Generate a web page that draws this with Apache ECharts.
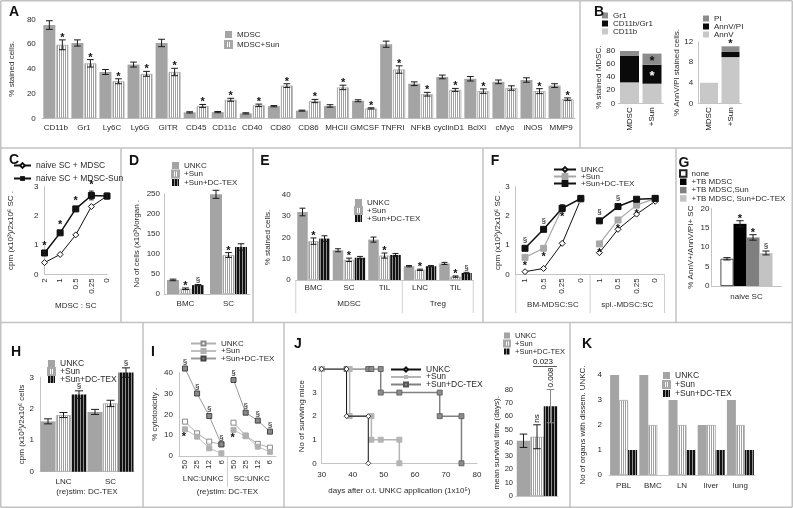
<!DOCTYPE html>
<html><head><meta charset="utf-8">
<script src="https://cdn.jsdelivr.net/npm/echarts@6/dist/echarts.min.js"></script>
<style>html,body{margin:0;padding:0;background:#fff}#c{width:793px;height:508px}</style>
</head><body><div id="c"></div>
<script>
// ================= DATA =================
// Panel A
const aCats = ['CD11b','Gr1','Ly6C','Ly6G','GITR','CD45','CD11c','CD40','CD80','CD86','MHCII','GMCSF','TNFRI','NFkB','cyclinD1','BclXl','cMyc','iNOS','MMP9'];
const aMDSC = [75.5,61,37.5,43.5,61,4.8,5,4,9.8,6.2,10,14.2,60,28,33.5,32,29.5,31,26.5];
const aMDSCerr = [3.5,2.5,2,2,3,0.5,0.5,0.5,0.5,0.4,1,0.8,2.5,1.5,1.5,1.8,1.5,1.8,1.5];
const aSun = [59.5,44.5,30,36,37.5,10,15,10.5,26.5,14,25,8,39.5,19.5,23,22,24.5,22,15.5];
const aSunErr = [4,3,2,2,3,1.2,1.2,1,1.5,1.3,1.8,0.5,3,1.5,1.2,1.8,1.8,2,1];
const aSunAnn = ['*','*','*','*','*','*','*','*','*','*','*','*','*','*','*','*','','*','*'];
// Panel B
const bCats = ['MDSC','+Sun'];
const bCD11b = [32,30];
const bCD11bGr1 = [41,29];
const bGr1 = [7,17];
const bAnnV = [4,9];
const bAnnVPI = [0,1];
const bPI = [0,1.1];
// Panel C
const cCats = ['2','1','0.5','0.25','0'];
const cMDSC = [0.4,0.68,1.35,2.32,2.68];
const cMDSCerr = [0.03,0.03,0.04,0.05,0.08];
const cSun = [0.73,1.42,2.24,2.7,2.68];
const cSunErr = [0.05,0.05,0.06,0.15,0.1];
const cSunAnn = ['*','*','*','*',''];
// Panel D
const dCats = ['BMC','SC'];
const dUNKC = [35,248];   const dUNKCerr = [2,10];
const dSun = [13,97];     const dSunErr = [2,6];   const dSunAnn = ['*','*'];
const dDC = [22,117];     const dDCerr = [1.5,8];  const dDCann = ['§',''];
// Panel E
const eCats = ['BMC','SC','TIL','LNC','TIL'];
const eGroups = ['MDSC','Treg'];
const eUNKC = [32,14,19,6.5,7.8];   const eUNKCerr = [1.8,0.7,1.2,0.3,0.5];
const eSun = [18.3,9.5,11.5,4.8,1.6]; const eSunErr = [1.5,0.8,1.2,0.3,0.3]; const eSunAnn = ['*','*','*','*','*'];
const eDC = [19.5,10.5,11.8,6.5,3.3]; const eDCerr = [1.3,0.6,0.7,0.3,0.3]; const eDCann = ['','','','','§'];
// Panel F
const fTicks = ['1','0.5','0.25','0','1','0.5','0.25','0'];
const fGroups = ['BM-MDSC:SC','spl.-MDSC:SC'];
const fUNKC = [0.09,0.2,1.06,2.57, 0.74,1.54,2.06,2.5];
const fSun = [0.58,0.89,2.26,2.57, 1.04,1.86,2.37,2.6];
const fDC = [0.89,1.54,2.26,2.6, 1.83,2.32,2.57,2.6];
const fDCerr = [0,0,0.12,0, 0,0,0,0];
const fSunAnn = ['*','*','*','', '*','*','*',''];
const fDCann = ['§','§','','', '§','§','',''];
// Panel G
const gCat = ['naive SC'];
const gNone = [7];   const gNoneErr = [0.3];
const gTB = [16];    const gTBerr = [0.8]; const gTBann = ['*'];
const gSun = [12.5]; const gSunErr = [0.7]; const gSunAnn = ['*'];
const gDC = [8.5];   const gDCerr = [0.5]; const gDCann = ['§'];
// Panel H
const hCats = ['LNC','SC'];
const hUNKC = [1.6,1.9];  const hUNKCerr = [0.08,0.08];
const hSun = [1.8,2.17];  const hSunErr = [0.08,0.1];
const hDC = [2.45,3.15];  const hDCerr = [0.12,0.15]; const hDCann = ['§','§'];
// Panel I
const iTicks = ['50','25','12','6','50','25','12','6'];
const iGroups = ['LNC:UNKC','SC:UNKC'];
const iUNKC = [16.5,10.9,6.9,5.6, 16,9.8,5.8,4];
const iSun = [12.8,9.3,3.7,1.3, 12.5,9.5,4.5,2];
const iDC = [42,30,19.2,5.6, 36.5,20.8,17,11.7];
const iDCann = ['§','§','§','§', '§','§','§','§'];
const iSunAnn = ['*','','','', '*','','',''];
// Panel J
const jUNKC = [[30,4],[38,4],[38,2],[45,2],[45,0]];
const jSun = [[30,4],[39,4],[39,2],[46,2],[46,1],[49,1],[55,1],[55,0]];
const jDC = [[30,4],[38,4],[45,4],[46,4],[49,4],[49,3],[55,3],[68,3],[68,2],[75,2],[75,0]];
const jMean = [41.5,44.5,67.5];
const jMeanErr = [5,9,12.5];
const jMeanAnn = ['','ns','0.008'];
const jPair = '0.023';
// Panel K
const kCats = ['PBL','BMC','LN','liver','lung'];
const kUNKC = [4,4,3,2,3];
const kSun = [3,2,2,2,2];
const kDC = [1,0,1,1,1];

// ================= STYLE / HELPERS =================
const FONT = '"Liberation Sans", Arial, sans-serif';
const TXT = '#2a2a2a';
const AX = '#c4c4c4';
const FRAME = '#c2c2c2';
const GRAY = '#a4a4a4';

function stripe(cols) {
  const c = document.createElement('canvas');
  c.width = cols.length; c.height = 4;
  const ctx = c.getContext('2d');
  cols.forEach((col, i) => { ctx.fillStyle = col; ctx.fillRect(i, 0, 1, 4); });
  return c;
}
const PAT_SUN = { image: stripe(['#ffffff', '#a0a0a0']), repeat: 'repeat' };
const PAT_DC = { image: stripe(['#111111', '#111111', '#8c8c8c']), repeat: 'repeat' };

function merge(a, b) {
  const o = Object.assign({}, a);
  for (const k in b) {
    const bv = b[k];
    if (bv && typeof bv === 'object' && !Array.isArray(bv) && !(bv.image) &&
        a && a[k] && typeof a[k] === 'object' && !Array.isArray(a[k])) o[k] = merge(a[k], bv);
    else o[k] = bv;
  }
  return o;
}

const grid = [], xAxis = [], yAxis = [], series = [], legend = [], graphic = [];

function catX(data, o) {
  return merge({ type: 'category', data, axisTick: { show: false },
    axisLine: { show: true, lineStyle: { color: AX, width: 1 } },
    axisLabel: { color: TXT, fontSize: 8, fontFamily: FONT, margin: 5, interval: 0 },
    splitLine: { show: false },
    nameLocation: 'middle', nameTextStyle: { color: TXT, fontSize: 8, fontFamily: FONT } }, o || {});
}
function valY(min, max, interval, o) {
  return merge({ type: 'value', min, max, interval, splitLine: { show: false },
    axisLine: { show: false, lineStyle: { color: AX, width: 1 } }, axisTick: { show: false },
    axisLabel: { color: TXT, fontSize: 8, fontFamily: FONT, margin: 6 },
    nameLocation: 'middle', nameRotate: 90,
    nameTextStyle: { color: TXT, fontSize: 8, fontFamily: FONT } }, o || {});
}
function addPanel(rect, xa, ya) {
  const gi = grid.length;
  grid.push(Object.assign({ containLabel: false, show: false }, rect));
  xAxis.push(Object.assign({ gridIndex: gi }, xa));
  yAxis.push(Object.assign({ gridIndex: gi }, ya));
  return gi;
}
function addErr(gi, vals, errs, off, bw, color) {
  series.push({ type: 'custom', xAxisIndex: gi, yAxisIndex: gi, silent: true, clip: false, z: 5,
    data: vals.map((v, i) => [i, v, errs[i] || 0]), encode: { x: 0, y: 1 },
    renderItem(p, api) {
      const i = api.value(0), v = api.value(1), e = api.value(2);
      if (!e) return null;
      const x = api.coord([i, v])[0] + off;
      const y1 = api.coord([i, v + e])[1], y2 = api.coord([i, v - e])[1];
      const cap = Math.max(2, Math.min(4, bw * 0.28));
      const st = { stroke: color || '#1a1a1a', lineWidth: 1 };
      return { type: 'group', children: [
        { type: 'line', shape: { x1: x, y1: y1, x2: x, y2: y2 }, style: st },
        { type: 'line', shape: { x1: x - cap, y1: y1, x2: x + cap, y2: y1 }, style: st },
        { type: 'line', shape: { x1: x - cap, y1: y2, x2: x + cap, y2: y2 }, style: st }] };
    } });
}
function addText(gi, pts, opts) {
  opts = opts || {};
  series.push({ type: 'custom', xAxisIndex: gi, yAxisIndex: gi, silent: true, clip: false, z: 6,
    data: pts.map(p => [p[0], p[1]]), encode: { x: 0, y: 1 },
    renderItem(params, api) {
      const p = pts[params.dataIndex];
      if (!p[2]) return null;
      const c = api.coord([p[0], p[1]]);
      const isStar = p[2] === '*';
      return { type: 'text', x: c[0] + (opts.dx || 0), y: c[1] + (opts.dy != null ? opts.dy : (isStar ? -2 : -5)),
        rotation: opts.rot || 0,
        style: { text: p[2], fill: p[3] || opts.color || '#111',
          font: opts.font || (isStar ? 'bold 11px ' + FONT : '8px ' + FONT),
          align: opts.align || 'center', verticalAlign: opts.va || 'middle' } };
    } });
}
function addBars(gi, defs, bw, gapPx) {
  const n = defs.length;
  const total = n * bw + (n - 1) * gapPx;
  defs.forEach((d, i) => {
    series.push({ type: 'bar', name: d.name, xAxisIndex: gi, yAxisIndex: gi, data: d.data,
      barWidth: bw, barGap: (gapPx / bw * 100) + '%', clip: false, z: 2,
      itemStyle: { color: d.color, borderColor: d.border || 'transparent', borderWidth: d.border ? 0.8 : 0 } });
    const off = -total / 2 + i * (bw + gapPx) + bw / 2;
    if (d.err) addErr(gi, d.data, d.err, off, bw);
    if (d.ann) addText(gi, d.data.map((v, k) => [k, v + (d.err ? d.err[k] : 0), d.ann[k]]), { dx: off });
  });
}
function addLegend(left, top, names, o, rectIcon) {
  legend.push(merge({ orient: 'vertical', left, top,
    data: rectIcon === false ? names : names.map(n => ({ name: n, icon: 'rect' })),
    itemWidth: 7, itemHeight: 7, itemGap: 0,
    padding: 0, selectedMode: false,
    textStyle: { color: TXT, fontSize: 8, fontFamily: FONT, lineHeight: 9 },
    formatter: n => n.split('|')[1] }, o || {}));
}
function txt(x, y, s, o) {
  graphic.push({ type: 'text', x, y, silent: true, z: 10,
    style: Object.assign({ text: s, fill: TXT, font: '8px ' + FONT, align: 'center', verticalAlign: 'middle' }, o || {}) });
}
function ln(x1, y1, x2, y2, color, w) {
  graphic.push({ type: 'line', silent: true, z: 0, shape: { x1, y1, x2, y2 }, style: { stroke: color || FRAME, lineWidth: w || 1.5 } });
}
const idx = arr => arr.map((t, i) => String(i));
function splitGroups(vals, size) {
  return [vals.map((v, i) => i < size ? v : '-'), vals.map((v, i) => i >= size ? v : '-')];
}

// ================= PANEL A =================
{
  const gi = addPanel({ left: 37.4, top: 19.5, width: 537.7, height: 98.8 },
    catX(aCats, { axisLabel: { margin: 5 } }),
    valY(0, 80, 20, { name: '% stained cells.', nameGap: 21 }));
  addBars(gi, [
    { name: 'A|MDSC', data: aMDSC, err: aMDSCerr, color: GRAY },
    { name: 'A|MDSC+Sun', data: aSun, err: aSunErr, ann: aSunAnn, color: PAT_SUN, border: '#a8a8a8' }
  ], 12, 1);
  addLegend(224, 30, ['A|MDSC', 'A|MDSC+Sun'], { itemGap: 1 });
}
// ================= PANEL B =================
{
  const g1 = addPanel({ left: 618.25, top: 51, width: 45, height: 52.3 },
    catX(bCats, { axisLabel: { rotate: 90, margin: 4, color: '#111', fontSize: 8 } }),
    valY(0, 80, 20, { name: '% stained MDSC.', nameGap: 15, axisLabel: { margin: 3 } }));
  const st = (name, data, color) => series.push({ type: 'bar', name, stack: 'b1', xAxisIndex: g1, yAxisIndex: g1,
    data, barWidth: 19, itemStyle: { color } });
  st('B|CD11b', bCD11b, '#c8c8c8');
  st('B|CD11b/Gr1', bCD11bGr1, '#0a0a0a');
  st('B|Gr1', bGr1, '#8c8c8c');
  addText(g1, [[1, bCD11b[1] + bCD11bGr1[1] / 2, '*', '#fff'],
               [1, bCD11b[1] + bCD11bGr1[1] + bGr1[1] / 2, '*', '#111']], { dy: 2, font: 'bold 13px ' + FONT });
  addLegend(602, 11, ['B|Gr1', 'B|CD11b/Gr1', 'B|CD11b'], { itemWidth: 6, itemHeight: 6, itemGap: -1 });

  const g2 = addPanel({ left: 698.25, top: 41.7, width: 43, height: 61.6 },
    catX(bCats, { axisLabel: { rotate: 90, margin: 4, color: '#111', fontSize: 8 } }),
    valY(0, 12, 4, { name: '% AnnV/PI stained cells.', nameGap: 17, axisLabel: { margin: 5 },
      axisLine: { show: true } }));
  const st2 = (name, data, color) => series.push({ type: 'bar', name, stack: 'b2', xAxisIndex: g2, yAxisIndex: g2,
    data, barWidth: 18, itemStyle: { color } });
  st2('B|AnnV', bAnnV, '#c8c8c8');
  st2('B|AnnV/PI', bAnnVPI, '#0a0a0a');
  st2('B|PI', bPI, '#8c8c8c');
  addText(g2, [[1, bAnnV[1] + bAnnVPI[1] + bPI[1], '*']]);
  addLegend(703, 14, ['B|PI', 'B|AnnV/PI', 'B|AnnV'], { itemWidth: 6, itemHeight: 6, itemGap: -1 });
}
// ================= PANEL C =================
{
  const gi = addPanel({ left: 44.5, top: 186.7, width: 62.5, height: 87.6 },
    catX(cCats, { boundaryGap: false, axisLabel: { rotate: 90, margin: 4 }, name: 'MDSC : SC', nameGap: 27 }),
    valY(0, 3, 1, { name: 'cpm (x10³)/2x10⁶ SC .', nameGap: 30, axisLine: { show: true } }));
  series.push({ type: 'line', name: 'C|naive SC + MDSC', xAxisIndex: gi, yAxisIndex: gi, data: cMDSC,
    symbol: 'diamond', symbolSize: 6, lineStyle: { color: '#111', width: 1 },
    itemStyle: { color: '#fff', borderColor: '#111', borderWidth: 1 }, z: 3 });
  series.push({ type: 'line', name: 'C|naive SC + MDSC-Sun', xAxisIndex: gi, yAxisIndex: gi, data: cSun,
    symbol: 'rect', symbolSize: 6, lineStyle: { color: '#111', width: 1.5 },
    itemStyle: { color: '#111', borderColor: '#111' }, z: 4 });
  addErr(gi, cSun, cSunErr, 0, 8);
  addText(gi, cSun.map((v, i) => [i, v + cSunErr[i], cSunAnn[i]]), { dy: -6 });
  addLegend(13, 161, ['C|naive SC + MDSC', 'C|naive SC + MDSC-Sun'], { itemWidth: 17, itemHeight: 6, itemGap: 4, textStyle: { fontSize: 8.5 } }, false);
}
// ================= PANEL D =================
{
  const gi = addPanel({ left: 164, top: 193.5, width: 86, height: 100.5 },
    catX(dCats, { axisLabel: { margin: 6 } }),
    valY(0, 250, 50, { name: 'No of cells (x10³)/organ .', nameGap: 23, axisLabel: { margin: 4 }, axisLine: { show: true } }));
  addBars(gi, [
    { name: 'D|UNKC', data: dUNKC, err: dUNKCerr, color: GRAY },
    { name: 'D|+Sun', data: dSun, err: dSunErr, ann: dSunAnn, color: PAT_SUN, border: '#a8a8a8' },
    { name: 'D|+Sun+DC-TEX', data: dDC, err: dDCerr, ann: dDCann, color: PAT_DC }
  ], 12, 0.5);
  addLegend(171, 161, ['D|UNKC', 'D|+Sun', 'D|+Sun+DC-TEX'], { itemGap: -0.5 });
}
// ================= PANEL E =================
{
  const gi = addPanel({ left: 295.75, top: 195, width: 177.5, height: 85 },
    catX(idx(eCats), { axisLabel: { margin: 4, formatter: (v, i) => eCats[i] } }),
    valY(0, 40, 10, { name: '% stained cells.', nameGap: 24, axisLabel: { margin: 5 } }));
  addBars(gi, [
    { name: 'E|UNKC', data: eUNKC, err: eUNKCerr, color: GRAY },
    { name: 'E|+Sun', data: eSun, err: eSunErr, ann: eSunAnn, color: PAT_SUN, border: '#a8a8a8' },
    { name: 'E|+Sun+DC-TEX', data: eDC, err: eDCerr, ann: eDCann, color: PAT_DC }
  ], 10.5, 0.5);
  addLegend(354, 198, ['E|UNKC', 'E|+Sun', 'E|+Sun+DC-TEX'], { itemGap: -1 });
  const bw = 177.5 / eCats.length;
  [0, 3, 5].forEach(k => ln(295.75 + k * bw, 280, 295.75 + k * bw, 313, '#d0d0d0', 1));
  txt(295.75 + 1.5 * bw, 304, eGroups[0]);
  txt(295.75 + 4 * bw, 304, eGroups[1]);
}
// ================= PANEL F =================
{
  const gi = addPanel({ left: 515.7, top: 186.7, width: 148.8, height: 87.6 },
    catX(idx(fTicks), { axisLabel: { rotate: 90, margin: 4, formatter: (v, i) => fTicks[i] } }),
    valY(0, 3, 1, { name: 'cpm (x10³)/2x10⁶ SC .', nameGap: 12, axisLine: { show: true } }));
  const mk = (name, vals, sym, color, fill, lw, z) => splitGroups(vals, 4).forEach(d => series.push({
    type: 'line', name, xAxisIndex: gi, yAxisIndex: gi, data: d, symbol: sym, symbolSize: 6, z,
    lineStyle: { color, width: lw }, itemStyle: { color: fill, borderColor: color, borderWidth: 1 } }));
  mk('F|UNKC', fUNKC, 'diamond', '#111', '#fff', 1, 3);
  mk('F|+Sun', fSun, 'rect', '#a8a8a8', '#a8a8a8', 1.2, 4);
  mk('F|+Sun+DC-TEX', fDC, 'rect', '#111', '#111', 1.5, 5);
  addErr(gi, fDC, fDCerr, 0, 8);
  addText(gi, fSun.map((v, i) => [i, v, fSunAnn[i]]), { dy: 9 });
  addText(gi, fDC.map((v, i) => [i, v, fDCann[i]]), { dy: -9 });
  addLegend(553, 165, ['F|UNKC', 'F|+Sun', 'F|+Sun+DC-TEX'], { itemWidth: 22, itemHeight: 6, itemGap: -2 }, false);
  const bw = 148.8 / fTicks.length;
  [0, 4, 8].forEach(k => ln(515.7 + k * bw, 274.3, 515.7 + k * bw, 313, '#d0d0d0', 1));
  txt(515.7 + 2 * bw, 305, fGroups[0]);
  txt(515.7 + 6 * bw, 305, fGroups[1]);
}
// ================= PANEL G =================
{
  const gi = addPanel({ left: 711.5, top: 208.3, width: 70, height: 77.7 },
    catX(gCat, { axisLabel: { margin: 7 } }),
    valY(0, 20, 5, { name: '% AnnV+/AnnV/PI+ SC', nameGap: 17, axisLabel: { margin: 2 }, axisLine: { show: true } }));
  addBars(gi, [
    { name: 'G|none', data: gNone, err: gNoneErr, color: '#fff', border: '#222' },
    { name: 'G|+TB MDSC', data: gTB, err: gTBerr, ann: gTBann, color: '#000' },
    { name: 'G|+TB MDSC,Sun', data: gSun, err: gSunErr, ann: gSunAnn, color: '#7f7f7f' },
    { name: 'G|+TB MDSC, Sun+DC-TEX', data: gDC, err: gDCerr, ann: gDCann, color: '#c3c3c3' }
  ], 13, 0);
  addLegend(679, 169, ['G|none', 'G|+TB MDSC', 'G|+TB MDSC,Sun', 'G|+TB MDSC, Sun+DC-TEX'], { itemGap: -0.7, itemWidth: 6.5, itemHeight: 6.5 });
}
// ================= PANEL H =================
{
  const gi = addPanel({ left: 40, top: 377.3, width: 94, height: 94.4 },
    catX(hCats, { axisLabel: { margin: 6 }, name: '(re)stim: DC-TEX', nameGap: 16 }),
    valY(0, 3, 1, { name: 'cpm (x10³)/2x10⁶ cells', nameGap: 14, axisLine: { show: true } }));
  addBars(gi, [
    { name: 'H|UNKC', data: hUNKC, err: hUNKCerr, color: GRAY },
    { name: 'H|+Sun', data: hSun, err: hSunErr, color: PAT_SUN, border: '#a8a8a8' },
    { name: 'H|+Sun+DC-TEX', data: hDC, err: hDCerr, ann: hDCann, color: PAT_DC }
  ], 15, 0.5);
  addLegend(47, 359, ['H|UNKC', 'H|+Sun', 'H|+Sun+DC-TEX'], { itemGap: -1, textStyle: { fontSize: 8.5 } });
}
// ================= PANEL I =================
{
  const gi = addPanel({ left: 178.9, top: 372.7, width: 97.1, height: 83.3 },
    catX(idx(iTicks), { axisLabel: { rotate: 90, margin: 4, formatter: (v, i) => iTicks[i] }, name: '(re)stim: DC-TEX', nameGap: 32 }),
    valY(0, 40, 10, { name: '% cytotoxicity .', nameGap: 20, axisLine: { show: true } }));
  const mk = (name, vals, color, fill, border, z) => splitGroups(vals, 4).forEach(d => series.push({
    type: 'line', name, xAxisIndex: gi, yAxisIndex: gi, data: d, symbol: 'rect', symbolSize: 5, z, clip: false,
    lineStyle: { color, width: 1 }, itemStyle: { color: fill, borderColor: border, borderWidth: 1 } }));
  mk('I|UNKC', iUNKC, '#b0b0b0', '#fff', '#8a8a8a', 3);
  mk('I|+Sun', iSun, '#c0c0c0', '#b0b0b0', '#b0b0b0', 4);
  mk('I|+Sun+DC-TEX', iDC, '#9a9a9a', '#8a8a8a', '#444', 5);
  addText(gi, iDC.map((v, i) => [i, v, iDCann[i]]), { dy: -7, font: '8px ' + FONT });
  addText(gi, iSun.map((v, i) => [i, v, iSunAnn[i]]), { dy: 8, dx: -1 });
  addLegend(190, 339, ['I|UNKC', 'I|+Sun', 'I|+Sun+DC-TEX'], { itemWidth: 25, itemHeight: 5, itemGap: -1.5 }, false);
  const bw = 97.1 / iTicks.length;
  ln(178.9 + 4 * bw, 456, 178.9 + 4 * bw, 487, '#d0d0d0', 1);
  txt(178.9 + 2 * bw, 479, iGroups[0]);
  txt(178.9 + 6 * bw, 479, iGroups[1]);
}
// ================= PANEL J =================
{
  const gi = addPanel({ left: 321.7, top: 369, width: 155.3, height: 94.3 },
    { type: 'value', min: 30, max: 80, interval: 10, splitLine: { show: false },
      axisLine: { show: true, lineStyle: { color: AX } }, axisTick: { show: false },
      axisLabel: { color: TXT, fontSize: 8, fontFamily: FONT, margin: 7 },
      name: 'days after o.t. UNKC application (1x10⁵)', nameLocation: 'middle', nameGap: 23,
      nameTextStyle: { color: TXT, fontSize: 8, fontFamily: FONT } },
    valY(0, 4, 1, { name: 'No of surviving mice', nameGap: 16, axisLabel: { margin: 5 }, axisLine: { show: true } }));
  series.push({ type: 'line', name: 'J|+Sun+DC-TEX', xAxisIndex: gi, yAxisIndex: gi, data: jDC, symbol: 'rect', symbolSize: 5, z: 3,
    lineStyle: { color: '#808080', width: 1.5 }, itemStyle: { color: '#8c8c8c', borderColor: '#555', borderWidth: 0.8 } });
  series.push({ type: 'line', name: 'J|+Sun', xAxisIndex: gi, yAxisIndex: gi, data: jSun, symbol: 'rect', symbolSize: 5, z: 4,
    lineStyle: { color: '#b4b4b4', width: 1.5 }, itemStyle: { color: '#b4b4b4', borderColor: '#b4b4b4' } });
  series.push({ type: 'line', name: 'J|UNKC', xAxisIndex: gi, yAxisIndex: gi, data: jUNKC, symbol: 'diamond', symbolSize: 5, z: 5,
    lineStyle: { color: '#111', width: 1 }, itemStyle: { color: '#fff', borderColor: '#111', borderWidth: 0.8 } });
  addLegend(390, 365, ['J|UNKC', 'J|+Sun', 'J|+Sun+DC-TEX'], { itemWidth: 30, itemHeight: 5, itemGap: -1.5, textStyle: { fontSize: 8.5 } }, false);

  const g2 = addPanel({ left: 516, top: 389.5, width: 42, height: 106.5 },
    catX([''], { axisLabel: { show: false } }),
    valY(0, 80, 10, { name: 'mean survival time (days).', nameGap: 15, axisLabel: { margin: 3, fontSize: 7.5 } }));
  const jb = [
    { name: 'J2|UNKC', color: GRAY }, { name: 'J2|+Sun', color: PAT_SUN, border: '#a8a8a8' }, { name: 'J2|+Sun+DC-TEX', color: PAT_DC }];
  const bw = 13.5, total = 3 * bw;
  jb.forEach((b, i) => {
    series.push({ type: 'bar', name: b.name, xAxisIndex: g2, yAxisIndex: g2, data: [jMean[i]], barWidth: bw, barGap: '0%',
      itemStyle: { color: b.color, borderColor: b.border || 'transparent', borderWidth: b.border ? 0.8 : 0 } });
    const off = -total / 2 + i * bw + bw / 2;
    addErr(g2, [jMean[i]], [jMeanErr[i]], off, bw, i === 2 ? '#888' : '#1a1a1a');
    addText(g2, [[0, jMean[i] + jMeanErr[i], jMeanAnn[i]]], { dx: off, dy: -2, rot: Math.PI / 2, align: 'left', font: '8px ' + FONT });
  });
  addText(g2, [[0, jMean[2] + jMeanErr[2] + 20.6, jPair]], { dx: 6, dy: 0, font: '8px ' + FONT, va: 'middle' });
  addLegend(503, 331, ['J2|UNKC', 'J2|+Sun', 'J2|+Sun+DC-TEX'], { itemWidth: 6, itemHeight: 6, itemGap: -1, textStyle: { fontSize: 7.5, lineHeight: 9 } });
  ln(533, 366.5, 557, 366.5, '#333', 0.8);
}
// ================= PANEL K =================
{
  const gi = addPanel({ left: 609, top: 375, width: 146, height: 100 },
    catX(kCats, { axisLabel: { margin: 7 } }),
    valY(0, 4, 1, { name: 'No of organs with dissem. UNKC.', nameGap: 22, axisLabel: { margin: 7 } }));
  addBars(gi, [
    { name: 'K|UNKC', data: kUNKC, color: GRAY },
    { name: 'K|+Sun', data: kSun, color: PAT_SUN, border: '#a8a8a8' },
    { name: 'K|+Sun+DC-TEX', data: kDC, color: PAT_DC }
  ], 9, 0);
  addLegend(662, 371, ['K|UNKC', 'K|+Sun', 'K|+Sun+DC-TEX'], { itemGap: 0, textStyle: { fontSize: 8.5 } });
}

// ================= FRAME & LETTERS =================
ln(0.75, 0.75, 792.25, 0.75); ln(0.75, 0.75, 0.75, 507.25); ln(792.25, 0.75, 792.25, 507.25); ln(0.75, 507.25, 792.25, 507.25);
ln(0, 148, 793, 148); ln(0, 322.5, 793, 322.5);
ln(580, 0, 580, 148);
[121, 253, 483, 676].forEach(x => ln(x, 148, x, 322.5));
[143, 284, 570].forEach(x => ln(x, 322.5, x, 508));
const letters = [['A', 14, 12], ['B', 599, 12], ['C', 14, 160], ['D', 134, 161], ['E', 265, 161], ['F', 495, 161],
  ['G', 684, 163], ['H', 16, 352], ['I', 153, 352], ['J', 298, 344], ['K', 587, 344]];
letters.forEach(l => txt(l[1], l[2], l[0], { font: 'bold 14px ' + FONT, fill: '#111' }));

const chart = echarts.init(document.getElementById('c'), null, { renderer: 'canvas', width: 793, height: 508 });
chart.setOption({ animation: false, backgroundColor: '#fff', grid, xAxis, yAxis, series, legend, graphic });
</script></body></html>
